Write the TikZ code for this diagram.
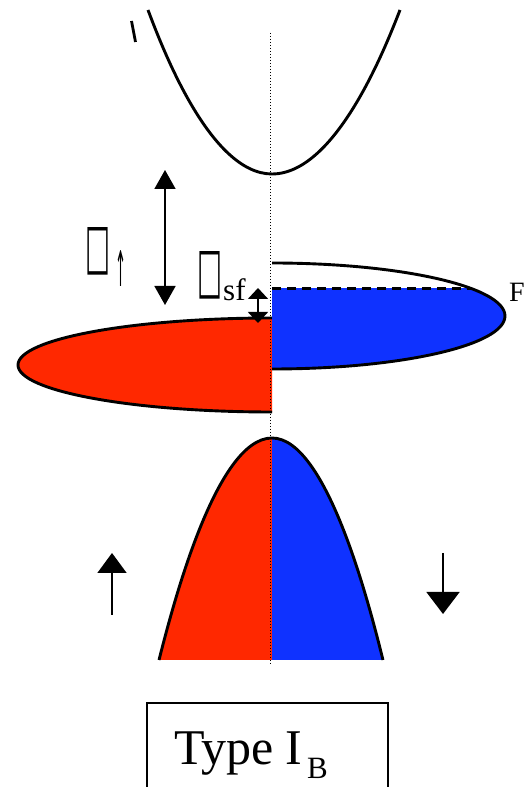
\documentclass[tikz,border=0pt]{standalone}
\usepackage{fontspec}
\setmainfont{Liberation Serif}
\newfontfamily\symfont{DejaVu Sans}
\usetikzlibrary{arrows.meta}
\definecolor{bandred}{RGB}{255,40,0}
\definecolor{bandblue}{RGB}{15,50,255}
\begin{document}
\begin{tikzpicture}[x=1pt,y=1pt,
  curve/.style={line width=2.9pt},
  axisline/.style={line width=1.4pt, dash pattern=on 1.4pt off 1.6pt},
  fermi/.style={line width=3pt, dash pattern=on 9pt off 6pt},
  bigdbl/.style={line width=1.7pt, {Triangle[width=21pt,length=19pt]}-{Triangle[width=21pt,length=19pt]}},
  smalldbl/.style={line width=1.7pt, {Triangle[width=20pt,length=11pt]}-{Triangle[width=20pt,length=11pt]}},
  uparrow/.style={line width=1.7pt, -{Triangle[width=29pt,length=20pt]}},
  downarrow/.style={line width=1.7pt, -{Triangle[width=33pt,length=22pt]}},
  boxchar/.style={inner sep=0pt, font=\symfont},
  lbl/.style={inner sep=0pt}
]
\useasboundingbox (0,0) rectangle (525,787);

% conduction band
\draw[curve] (148,777) parabola bend (272,613) (400,777);
% small tick mark
\draw[line width=2.8pt] (131.5,766) -- (135.5,745);

% majority (red) half-ellipse
\fill[bandred] (272,469) arc (90:270:254 and 47) -- cycle;
\draw[curve] (272,469) arc (90:270:254 and 47);

% minority (blue) half-ellipse, filled below Fermi level
\begin{scope}
  \clip (272,0) rectangle (525,498);
  \fill[bandblue] (272,471) ellipse (233 and 53);
\end{scope}
\draw[curve] (272,524) arc (90:-90:233 and 53);
\coordinate (ef0) at (272,498);
\coordinate (ef1) at (472,498);
\draw[fermi] (ef0) -- (ef1);
\node[lbl, anchor=base west, font=\fontsize{28}{28}\selectfont] (flabel) at (509,485) {F};

% valence band
\fill[bandred] (272,127) -- (272,349) parabola (159,127) -- cycle;
\fill[bandblue] (272,127) -- (272,349) parabola (383,127) -- cycle;
\draw[curve] (159,127) parabola bend (272,349) (383,127);

% dotted axis
\coordinate (axtop) at (270.5,754);
\coordinate (axbot) at (270.5,122);
\draw[axisline] (axtop) -- (axbot);

% exchange gap arrow
\coordinate (gA) at (165,617);
\coordinate (gB) at (165,482);
\draw[bigdbl] (gA) -- (gB);
\node[boxchar] (gapup) at (98,535.5) {\resizebox{25pt}{40pt}{□}};
\node[boxchar] (upsub) at (121,518) {\resizebox{11pt}{36pt}{↑}};

% spin-flip gap arrow
\coordinate (sA) at (258,499);
\coordinate (sB) at (258,464);
\draw[smalldbl] (sA) -- (sB);
\node[boxchar] (gapsf) at (210,511.5) {\resizebox{25pt}{40pt}{□}};
\node[lbl, anchor=base west, font=\fontsize{31}{31}\selectfont] (sfsub) at (223,486) {sf};

% spin arrows
\coordinate (uA) at (112,172);
\coordinate (uB) at (112,234);
\draw[uparrow] (uA) -- (uB);
\coordinate (dA) at (443,234);
\coordinate (dB) at (443,173);
\draw[downarrow] (dA) -- (dB);

% type box
\coordinate (b1) at (147,-5);
\coordinate (b2) at (147,84);
\coordinate (b3) at (388,84);
\coordinate (b4) at (388,-5);
\draw[line width=1.5pt] (b1) -- (b2) -- (b3) -- (b4);
\node[lbl, anchor=base west, font=\fontsize{50}{50}\selectfont] (typelabel) at (174,22) {Type I};
\node[lbl, anchor=base west, font=\fontsize{31}{31}\selectfont] (typesub) at (307,9) {B};
\end{tikzpicture}
\end{document}
